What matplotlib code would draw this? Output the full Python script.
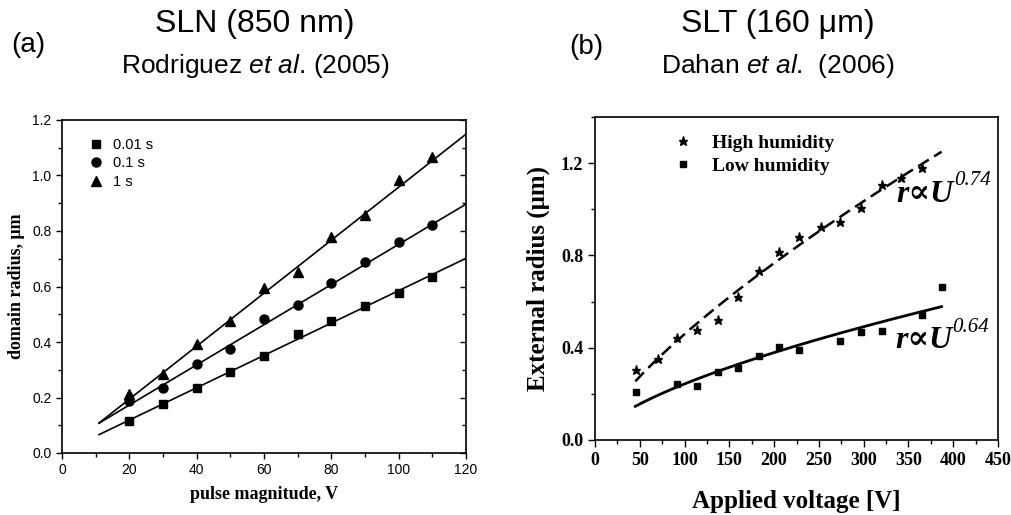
import numpy as np
import matplotlib
matplotlib.use("Agg")
import matplotlib.pyplot as plt
from matplotlib.ticker import MultipleLocator, FormatStrFormatter
import matplotlib.lines as mlines

plt.rcParams["mathtext.fontset"] = "custom"
plt.rcParams["mathtext.it"] = "Liberation Sans:italic"
plt.rcParams["mathtext.rm"] = "Liberation Sans"

# ---------------- data: panel (a) ----------------
a_x = [20, 30, 40, 50, 60, 70, 80, 90, 100, 110]
a_001 = [0.114, 0.176, 0.234, 0.292, 0.351, 0.430, 0.476, 0.529, 0.578, 0.635]
a_01 = [0.186, 0.236, 0.319, 0.376, 0.482, 0.533, 0.612, 0.689, 0.761, 0.821]
a_1 = [0.212, 0.286, 0.391, 0.475, 0.595, 0.653, 0.779, 0.857, 0.983, 1.068]
a_labels = ["0.01 s", "0.1 s", "1 s"]
a_fit_slope = [0.00583, 0.00724, 0.00955]
a_fit_icpt = [0.002, 0.028, 0.003]
a_fit_range = [11, 120]

# ---------------- data: panel (b) ----------------
b_x_high = [46, 70, 92, 114, 137, 160, 183, 206, 228, 252, 274, 297, 320, 342, 365]
b_high = [0.304, 0.350, 0.441, 0.477, 0.518, 0.619, 0.734, 0.817, 0.882, 0.925,
          0.943, 1.005, 1.106, 1.135, 1.178]
b_x_low = [46, 92, 114, 137, 160, 183, 206, 228, 274, 297, 320, 365, 387]
b_low = [0.207, 0.241, 0.234, 0.296, 0.314, 0.364, 0.405, 0.390, 0.431, 0.466,
         0.474, 0.542, 0.665]
b_labels = ["High humidity", "Low humidity"]
b_fit_exp = [0.74, 0.64]
b_fit_exp_labels = ["0.74", "0.64"]
b_fit_coef = [0.0152, 0.01276]
b_fit_range = [45, 387]

title_font = "Liberation Sans"
serif = "Liberation Serif"
sans = "Liberation Sans"

fig = plt.figure(figsize=(10.12, 5.15), dpi=100)
W, H = 1012, 515

def ax_rect(l, t, r, b):
    return [l / W, 1 - b / H, (r - l) / W, (b - t) / H]

# ---------------- panel (a) ----------------
ax1 = fig.add_axes(ax_rect(62, 120, 466, 453))
for yv, mk, ms, lab in zip([a_001, a_01, a_1], ["s", "o", "^"], [6, 6.5, 7], a_labels):
    ax1.plot(a_x, yv, linestyle="none", marker=mk, color="black", markersize=ms, label=lab)
xf = np.array(a_fit_range, dtype=float)
for s, c in zip(a_fit_slope, a_fit_icpt):
    ax1.plot(xf, s * xf + c, color="black", lw=1.2)
ax1.set_xlim(0, 120)
ax1.set_ylim(0, 1.2)
ax1.xaxis.set_major_locator(MultipleLocator(20))
ax1.xaxis.set_minor_locator(MultipleLocator(10))
ax1.yaxis.set_major_locator(MultipleLocator(0.2))
ax1.yaxis.set_minor_locator(MultipleLocator(0.1))
ax1.yaxis.set_major_formatter(FormatStrFormatter("%.1f"))
ax1.tick_params(which="both", direction="out", right=True, top=False, width=1.0,
                labelright=False)
ax1.tick_params(which="major", length=4)
ax1.tick_params(which="minor", length=3)
for lbl in ax1.get_xticklabels() + ax1.get_yticklabels():
    lbl.set_fontfamily(sans)
    lbl.set_fontsize(10)
for t in ax1.yaxis.get_major_ticks() + ax1.yaxis.get_minor_ticks():
    t.tick2line.set_marker(mlines.TICKLEFT)
for sp in ax1.spines.values():
    sp.set_linewidth(1.2)
ax1.set_xlabel("pulse magnitude, V", fontfamily=serif, fontweight="bold", fontsize=13, labelpad=6)
ax1.set_ylabel("domain radius, \u03bcm", fontfamily=serif, fontweight="bold", fontsize=13, labelpad=5)
ax1.legend(loc="upper left", bbox_to_anchor=(0.03, 0.985), frameon=False,
           prop={"family": sans, "size": 10.5}, handletextpad=0.6, labelspacing=0.3,
           handlelength=1.2)

# ---------------- panel (b) ----------------
ax2 = fig.add_axes(ax_rect(595, 117, 998, 440))
ax2.plot(b_x_high, b_high, linestyle="none", marker="*", color="black", markersize=6.5, label=b_labels[0])
ax2.plot(b_x_low, b_low, linestyle="none", marker="s", color="black", markersize=5, label=b_labels[1])
uf = np.linspace(b_fit_range[0], b_fit_range[1], 200)
ax2.plot(uf, b_fit_coef[0] * uf ** b_fit_exp[0], color="black", lw=1.8, linestyle=(0, (5, 2.5)))
ax2.plot(uf, b_fit_coef[1] * uf ** b_fit_exp[1], color="black", lw=2.0)
ax2.set_xlim(0, 450)
ax2.set_ylim(0, 1.4)
ax2.xaxis.set_major_locator(MultipleLocator(50))
ax2.xaxis.set_minor_locator(MultipleLocator(25))
ax2.yaxis.set_major_locator(MultipleLocator(0.4))
ax2.yaxis.set_minor_locator(MultipleLocator(0.2))
ax2.yaxis.set_major_formatter(FormatStrFormatter("%.1f"))
ax2.tick_params(which="both", direction="out", width=1.0)
ax2.tick_params(which="major", length=5)
ax2.tick_params(which="minor", length=3)
for lbl in ax2.get_xticklabels() + ax2.get_yticklabels():
    lbl.set_fontfamily(serif)
    lbl.set_fontweight("bold")
    lbl.set_fontsize(13)
for sp in ax2.spines.values():
    sp.set_linewidth(1.2)
ax2.set_xlabel("Applied voltage [V]", fontfamily=serif, fontweight="bold", fontsize=18, labelpad=15)
ax2.set_ylabel("External radius (\u03bcm)", fontfamily=serif, fontweight="bold", fontsize=18, labelpad=8)
ax2.legend(loc="upper left", bbox_to_anchor=(0.15, 1.0), frameon=False,
           prop={"family": serif, "weight": "bold", "size": 14}, handletextpad=1.0,
           labelspacing=0.25, handlelength=1.0)

for exp_lab, (xa, ya) in zip(b_fit_exp_labels, [(337, 1.065), (335, 0.43)]):
    main = ax2.text(xa, ya, "r\u221dU", fontfamily=[serif, "DejaVu Serif"], fontweight="bold",
                    fontstyle="italic", fontsize=23, ha="left", va="center")
    ax2.annotate(exp_lab, xy=(1.0, 0.64), xycoords=main, ha="left", va="bottom",
                 fontfamily=[serif, "DejaVu Serif"], fontstyle="italic", fontsize=15)

# ---------------- titles ----------------
tf = dict(fontfamily=title_font, ha="center", va="center")
fig.text(28 / W, 1 - 45 / H, "(a)", fontsize=20, **tf)
fig.text(255 / W, 1 - 24 / H, "SLN (850 nm)", fontsize=23, **tf)
fig.text(255 / W, 1 - 66 / H, "Rodriguez $\\it{et\\ al}$. (2005)", fontsize=19, **tf)
fig.text(586 / W, 1 - 47 / H, "(b)", fontsize=20, **tf)
fig.text(778 / W, 1 - 24 / H, "SLT (160 \u03bcm)", fontsize=23, **tf)
fig.text(778 / W, 1 - 66 / H, "Dahan $\\it{et\\ al}$.  (2006)", fontsize=19, **tf)

fig.savefig("out.png", dpi=100)
